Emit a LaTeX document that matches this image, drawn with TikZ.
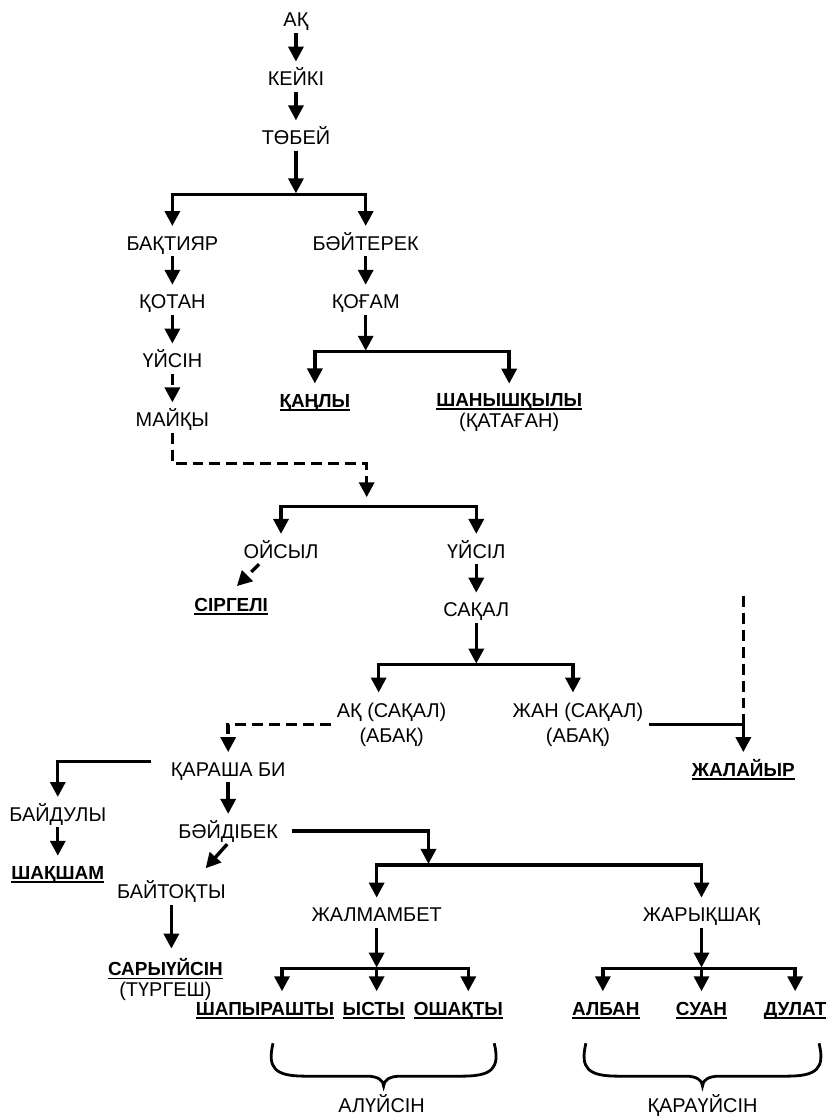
\documentclass[tikz,border=0pt]{standalone}
\usepackage{fontspec}
\setmainfont{Liberation Sans}
\usetikzlibrary{arrows.meta,positioning}

\newcommand{\namefont}{\fontsize{20}{24}\selectfont}
\newcommand{\ulname}[1]{{\fontsize{19}{23}\selectfont\bfseries\setbox0\hbox{#1}\rlap{\rule[-3.5pt]{\wd0}{1.9pt}}\box0}}

\tikzstyle{clan} = [font=\namefont, inner sep=6pt, text height=14pt, text depth=0pt]
\tikzstyle{pair} = [font=\namefont, inner sep=6pt, align=center, anchor=north]
\tikzstyle{line} = [draw, line width=3.4pt, -{Triangle[length=15pt,width=15pt]}, shorten >=4pt]
\tikzstyle{dline} = [line, dash pattern=on 11pt off 6pt]
\tikzstyle{brace} = [draw, line width=2.8pt]

\begin{document}
\begin{tikzpicture}[x=1pt, y=-1pt, node distance=59pt]
	\fill [white] (0,0) rectangle (838,1118);

	\node [clan] (ak) at (297,20) {АҚ};
	\node [clan, below of=ak] (keiki) {КЕЙКІ};
	\node [clan, below of=keiki] (tobei) {ТӨБЕЙ};
	\coordinate (fork1) at (297,195);

	\node [clan] (baqtiyar) at (173,244) {БАҚТИЯР};
	\node [clan, below of=baqtiyar] (qotan) {ҚОТАН};
	\node [clan, below of=qotan] (uisin) {ҮЙСІН};
	\node [clan, below of=uisin] (maiqy) {МАЙҚЫ};

	\node [clan] (baiterek) at (367,244) {БӘЙТЕРЕК};
	\node [clan, below of=baiterek] (qogam) {ҚОҒАМ};
	\coordinate (fork2) at (367,353);
	\node [clan] (qanly) at (316,402) {\ulname{ҚАҢЛЫ}};
	\node [pair] (shanyshqyly) at (511,389) {\ulname{ШАНЫШҚЫЛЫ}\\[-3pt](ҚАТАҒАН)};

	\coordinate (fork3) at (368,508);
	\node [clan] (oisyl) at (282,553) {ОЙСЫЛ};
	\node [clan] (uisil) at (478,553) {ҮЙСІЛ};
	\node [clan] (sirgeli) at (232,607) {\ulname{СІРГЕЛІ}};
	\node [clan, below of=uisil] (saqal) {САҚАЛ};
	\coordinate (fork4) at (478,667);
	\node [pair] (aqsaqal) at (393,699) {АҚ (САҚАЛ)\\[1pt](АБАҚ)};
	\node [pair] (jansaqal) at (580,699) {ЖАН (САҚАЛ)\\[1pt](АБАҚ)};
	\node [clan] (jalaiyr) at (746,772) {\ulname{ЖАЛАЙЫР}};
	\coordinate (dashtop) at (746,598);

	\node [clan] (qarasha) at (229,772) {ҚАРАША БИ};
	\node [clan] (baidula) at (58,817) {БАЙДУЛЫ};
	\node [clan, below of=baidula] (shaqsham) {\ulname{ШАҚШАМ}};
	\node [clan] (baidibek) at (229,834) {БӘЙДІБЕК};
	\node [clan] (baitoqty) at (172,895) {БАЙТОҚТЫ};
	\node [pair] (saryuisin) at (166,956) {\ulname{САРЫҮЙСІН}\\[-3pt](ТҮРГЕШ)};
	\coordinate (fork5) at (430,868);
	\node [clan] (jalmambet) at (378,918) {ЖАЛМАМБЕТ};
	\node [clan] (jaryqshaq) at (704,918) {ЖАРЫҚШАҚ};
	\coordinate (fork6) at (378,972);
	\coordinate (fork7) at (704,972);

	\node [clan] (shapyrashty) at (266,1012) {\ulname{ШАПЫРАШТЫ}};
	\node [clan] (ysty) at (375,1012) {\ulname{ЫСТЫ}};
	\node [clan] (oshaqty) at (460,1012) {\ulname{ОШАҚТЫ}};
	\node [clan] (alban) at (608,1012) {\ulname{АЛБАН}};
	\node [clan] (suan) at (704,1012) {\ulname{СУАН}};
	\node [clan] (dulat) at (798,1012) {\ulname{ДУЛАТ}};
	\node [clan] (aluisin) at (383,1109) {АЛҮЙСІН};
	\node [clan] (qarauisin) at (705,1109) {ҚАРАҮЙСІН};

	\path [line] (ak) edge (keiki) (keiki) edge (tobei);
	\path [line, shorten >=1pt] (tobei) edge (fork1);
	\path [line] (fork1) -| (baqtiyar);
	\path [line] (fork1) -| (baiterek);
	\path [line] (baqtiyar) edge (qotan) (qotan) edge (uisin);
	\path [dline] (uisin) edge (maiqy);
	\path [line] (baiterek) edge (qogam);
	\path [line, shorten >=1pt] (qogam) edge (fork2);
	\path [line] (fork2) -| (qanly);
	\path [line] (fork2) -| (shanyshqyly);

	\path [dline, shorten >=9pt] (maiqy) |- ([yshift=43pt]fork3) -- (fork3);
	\path [line] (fork3) -| (oisyl);
	\path [line] (fork3) -| (uisil);
	\path [dline, shorten >=8pt] ([xshift=-22pt]oisyl.south) -- (sirgeli.north);
	\path [line] (uisil) edge (saqal);
	\path [line, shorten >=1pt] (saqal) edge (fork4);
	\path [line] (fork4) -| ([xshift=-13pt]aqsaqal.north);
	\path [line] (fork4) -| ([xshift=-5pt]jansaqal.north);
	\path [line] (jansaqal) -| (jalaiyr);
	\draw [line width=3.4pt, dash pattern=on 11pt off 6pt] (dashtop) -- (dashtop |- jansaqal.east);

	\path [dline] (aqsaqal) -| (qarasha);
	\path [line, shorten <=14pt] ([yshift=8pt]qarasha.west) -| (baidula);
	\path [line] (baidula) edge (shaqsham);
	\path [line] (qarasha) edge (baidibek);
	\path [line, shorten <=8pt, shorten >=1pt] (baidibek) -| (fork5);
	\path [line, shorten >=14pt] ([xshift=-1pt]baidibek.south) -- ([xshift=25pt]baitoqty.north);
	\path [line] (baitoqty) -- (baitoqty |- saryuisin.north);
	\path [line] (fork5) -| (jalmambet);
	\path [line] (fork5) -| (jaryqshaq);
	\path [line, shorten >=1pt] (jalmambet) edge (fork6) (jaryqshaq) edge (fork7);
	\path [line] (fork6) -| ([xshift=17pt]shapyrashty.north);
	\path [line] (fork6) -| (fork6 |- ysty.north);
	\path [line] (fork6) -| ([xshift=10pt]oshaqty.north);
	\path [line] (fork7) -| ([xshift=-3pt]alban.north);
	\path [line] (fork7) -| (suan);
	\path [line] (fork7) -| (dulat);

	\foreach \l/\r in {274/496, 588/822} {
		\pgfmathsetmacro\m{(\l+\r)/2}
		\draw [brace] (\l,1047) .. controls (\l-6,1072) and (\l+2,1080) .. (\l+32,1080) -- (\m-17,1080) .. controls (\m-6,1080) and (\m,1084) .. (\m,1090) .. controls (\m,1084) and (\m+6,1080) .. (\m+17,1080) -- (\r-32,1080) .. controls (\r-2,1080) and (\r+6,1072) .. (\r,1047);
	}
\end{tikzpicture}
\end{document}
